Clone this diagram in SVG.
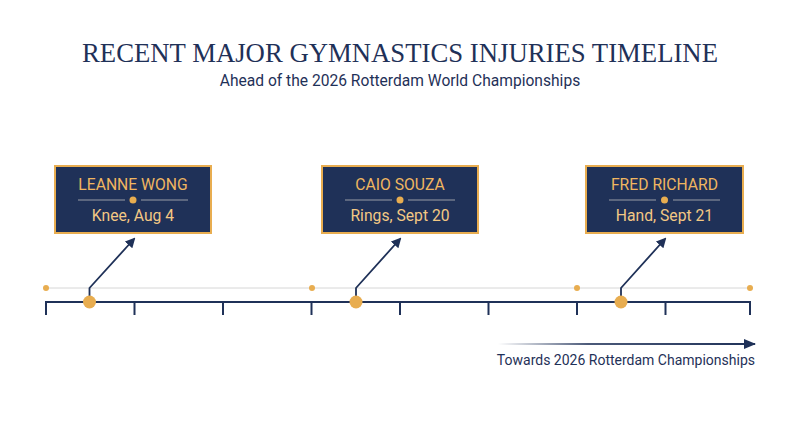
<svg xmlns="http://www.w3.org/2000/svg" width="800" height="447" viewBox="0 0 800 447">
<defs>
<style>
.title{font-family:"Liberation Serif","DejaVu Serif",serif;font-size:28px;fill:#1f3158;}
.sub{font-family:Roboto,"Liberation Sans",sans-serif;font-size:15.6px;fill:#1f3158;}
.box{fill:#1f3158;stroke:#e8ad50;stroke-width:2;}
.name{font-family:Roboto,"Liberation Sans",sans-serif;font-size:15.7px;fill:#f0b660;text-anchor:middle;}
.info{font-family:Roboto,"Liberation Sans",sans-serif;font-size:15.7px;fill:#f3c884;text-anchor:middle;}
.sep{stroke:#9a9ea6;stroke-width:1.2;}
.gold{fill:#e8ad50;}
.axis{stroke:#1f3158;stroke-width:2;fill:none;}
.thin{stroke:#d6d6d6;stroke-width:1;}
.conn{stroke:#1f3158;stroke-width:1.8;fill:none;}
.foot{font-family:Roboto,"Liberation Sans",sans-serif;font-size:14px;fill:#1f3158;text-anchor:end;}
</style>
<marker id="ah" markerWidth="10" markerHeight="10" refX="8" refY="5" orient="auto" markerUnits="userSpaceOnUse">
<path d="M0,0 L10,5 L0,10 z" fill="#1f3158"/>
</marker>
<marker id="ah2" markerWidth="12" markerHeight="10" refX="11" refY="5" orient="auto" markerUnits="userSpaceOnUse">
<path d="M0,0 L12,5 L0,10 z" fill="#1f3158"/>
</marker>
<linearGradient id="fade" gradientUnits="userSpaceOnUse" x1="498" y1="344" x2="755" y2="344">
<stop offset="0" stop-color="#1f3158" stop-opacity="0"/>
<stop offset="0.35" stop-color="#1f3158" stop-opacity="0.8"/>
<stop offset="1" stop-color="#1f3158" stop-opacity="1"/>
</linearGradient>
</defs>
<rect width="800" height="447" fill="#ffffff"/>
<g id="header">
<text class="title" x="400" y="62" text-anchor="middle" textLength="636" lengthAdjust="spacingAndGlyphs">RECENT MAJOR GYMNASTICS INJURIES TIMELINE</text>
<text class="sub" x="400" y="86" text-anchor="middle">Ahead of the 2026 Rotterdam World Championships</text>
</g>
<g id="timeline">
<line class="thin" x1="46" y1="288" x2="750" y2="288"/>
<circle class="gold" cx="46" cy="288" r="3"/>
<circle class="gold" cx="312" cy="288" r="3"/>
<circle class="gold" cx="577" cy="288" r="3"/>
<circle class="gold" cx="750" cy="288" r="3"/>
<line class="axis" x1="45" y1="302" x2="751" y2="302"/>
<g class="axis">
<line x1="46" y1="301" x2="46" y2="315"/>
<line x1="134.5" y1="301" x2="134.5" y2="315"/>
<line x1="223" y1="301" x2="223" y2="315"/>
<line x1="311.5" y1="301" x2="311.5" y2="315"/>
<line x1="400" y1="301" x2="400" y2="315"/>
<line x1="488.5" y1="301" x2="488.5" y2="315"/>
<line x1="577" y1="301" x2="577" y2="315"/>
<line x1="665.5" y1="301" x2="665.5" y2="315"/>
<line x1="750" y1="301" x2="750" y2="315"/>
</g>
</g>
<g id="connectors">
<path class="conn" d="M89.5,296 L89.5,288 L134,239" marker-end="url(#ah)"/>
<path class="conn" d="M356,296 L356,288 L400,239" marker-end="url(#ah)"/>
<path class="conn" d="M621,296 L621,288 L665,239" marker-end="url(#ah)"/>
<line x1="498" y1="344" x2="755" y2="344" stroke="url(#fade)" stroke-width="2" marker-end="url(#ah2)"/>
</g>
<g id="markers">
<circle class="gold" cx="89.5" cy="302" r="6.5"/>
<circle class="gold" cx="356" cy="302" r="6.5"/>
<circle class="gold" cx="621" cy="302" r="6.5"/>
</g>
<g id="node-wong">
<rect class="box" x="55" y="166" width="156" height="67"/>
<text class="name" x="133" y="190">LEANNE WONG</text>
<line class="sep" x1="78" y1="200" x2="125" y2="200"/>
<line class="sep" x1="141" y1="200" x2="188" y2="200"/>
<circle class="gold" cx="133" cy="200" r="3.5"/>
<text class="info" x="133" y="221">Knee, Aug 4</text>
</g>
<g id="node-souza">
<rect class="box" x="322" y="166" width="156" height="67"/>
<text class="name" x="400" y="190">CAIO SOUZA</text>
<line class="sep" x1="345" y1="200" x2="392" y2="200"/>
<line class="sep" x1="408" y1="200" x2="455" y2="200"/>
<circle class="gold" cx="400" cy="200" r="3.5"/>
<text class="info" x="400" y="221">Rings, Sept 20</text>
</g>
<g id="node-richard">
<rect class="box" x="586" y="166" width="157" height="67"/>
<text class="name" x="664.5" y="190">FRED RICHARD</text>
<line class="sep" x1="609" y1="200" x2="656" y2="200"/>
<line class="sep" x1="673" y1="200" x2="720" y2="200"/>
<circle class="gold" cx="664.5" cy="200" r="3.5"/>
<text class="info" x="664.5" y="221">Hand, Sept 21</text>
</g>
<g id="footer">
<text class="foot" x="755" y="365">Towards 2026 Rotterdam Championships</text>
</g>
</svg>
